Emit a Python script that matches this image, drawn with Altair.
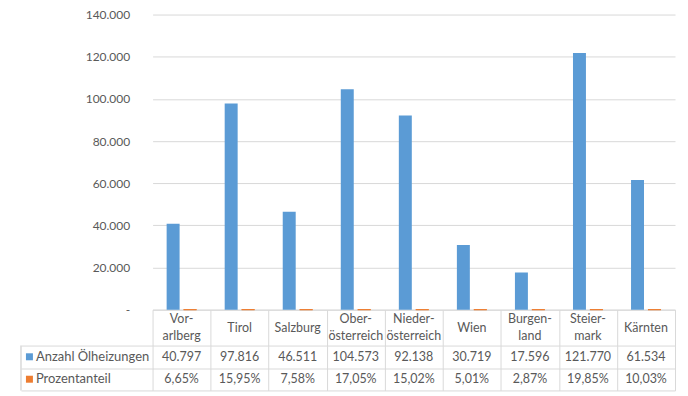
import altair as alt
import pandas as pd

# ---- data ----
categories = ["Vorarlberg", "Tirol", "Salzburg", "Oberösterreich", "Niederösterreich",
              "Wien", "Burgenland", "Steiermark", "Kärnten"]
header_labels = [["Vor-", "arlberg"], ["Tirol"], ["Salzburg"], ["Ober-", "österreich"],
                 ["Nieder-", "österreich"], ["Wien"], ["Burgen-", "land"], ["Steier-", "mark"],
                 ["Kärnten"]]
counts = [40797, 97816, 46511, 104573, 92138, 30719, 17596, 121770, 61534]
percents = [6.65, 15.95, 7.58, 17.05, 15.02, 5.01, 2.87, 19.85, 10.03]
series = ["Anzahl Ölheizungen", "Prozentanteil"]
colors = ["#5b9bd5", "#ed7d31"]
y_ticks = [0, 20000, 40000, 60000, 80000, 100000, 120000, 140000]

FONT = "Lato"
TEXT = "#595959"
GRID = "#d9d9d9"
W = 524
H = 296
HEADER_H = 36
LINE_H = 17

bars_df = pd.DataFrame({
    "Region": categories * 2,
    "Reihe": [series[0]] * len(categories) + [series[1]] * len(categories),
    "Wert": counts + percents,
})


def fmt_count(v):
    return f"{v:,}".replace(",", ".")


def fmt_pct(v):
    return f"{v:.2f}".replace(".", ",") + "%"


table_df = pd.DataFrame({
    "Region": categories * 2,
    "Reihe": [series[0]] * len(categories) + [series[1]] * len(categories),
    "Text": [fmt_count(v) for v in counts] + [fmt_pct(v) for v in percents],
})
rows_df = pd.DataFrame({"Reihe": series})

# header lines: each line of a (hyphenated) region name, centred as a block in the header row
hdr_rows = []
for cat, lines in zip(categories, header_labels):
    n = len(lines)
    for i, ln in enumerate(lines):
        hdr_rows.append({"Region": cat, "Zeile": ln,
                         "pos": HEADER_H / 2 + (i - (n - 1) / 2) * LINE_H})
header_df = pd.DataFrame(hdr_rows)

color_scale = alt.Scale(domain=series, range=colors)
band_x = alt.Scale(type="band", domain=categories, paddingInner=0, paddingOuter=0)

# ---- bar chart ----
bars = alt.Chart(bars_df).mark_bar().encode(
    x=alt.X("Region:N", sort=categories, scale=band_x,
            axis=alt.Axis(title=None, labels=False, ticks=False, domain=True, domainColor=GRID)),
    xOffset=alt.XOffset("Reihe:N", sort=series,
                        scale=alt.Scale(domain=series, paddingInner=0.235, paddingOuter=0.83)),
    y=alt.Y("Wert:Q", scale=alt.Scale(domain=[0, 140000], nice=False),
            axis=alt.Axis(title=None, values=y_ticks,
                          labelExpr="datum.value == 0 ? '-\u00a0\u00a0\u00a0' : replace(format(datum.value, ','), ',', '.')",
                          grid=True, gridColor=GRID, domain=False, ticks=False, labelPadding=23,
                          labelColor=TEXT, labelFontSize=12, labelFont=FONT)),
    color=alt.Color("Reihe:N", scale=color_scale, legend=None),
    stroke=alt.Stroke("Reihe:N", scale=color_scale, legend=None),
    strokeWidth=alt.condition(alt.datum.Reihe == series[1], alt.value(1), alt.value(0)),
).properties(width=W, height=H)

# ---- header row of the data table ----
grid_x = alt.Axis(title=None, orient="top", grid=True, gridColor=GRID, tickBand="extent",
                  labels=False, ticks=False, domain=False)
header = alt.Chart(header_df).mark_text(font=FONT, fontSize=12.5, color=TEXT).encode(
    x=alt.X("Region:N", sort=categories, scale=band_x, axis=grid_x),
    y=alt.Y("pos:Q", scale=alt.Scale(domain=[0, HEADER_H], reverse=True), axis=None),
    text="Zeile:N",
).properties(width=W, height=HEADER_H)

# ---- value rows of the data table ----
x_tab = alt.X("Region:N", sort=categories, scale=band_x, axis=grid_x)
y_tab = alt.Y("Reihe:N", sort=series,
              scale=alt.Scale(type="band", domain=series, paddingInner=0, paddingOuter=0),
              axis=alt.Axis(title=None, grid=True, gridColor=GRID, tickBand="extent",
                            labels=False, ticks=True, tickSize=132, tickColor=GRID, domain=False))

values_text = alt.Chart(table_df).mark_text(font=FONT, fontSize=12.5, color=TEXT).encode(
    x=x_tab, y=y_tab, text="Text:N")

row_labels = alt.Chart(rows_df).mark_text(font=FONT, fontSize=13, color=TEXT, align="left").encode(
    x=alt.value(-117), y=y_tab, text="Reihe:N")

squares = alt.Chart(rows_df).mark_square(size=49, opacity=1).encode(
    x=alt.value(-123.5), y=y_tab,
    color=alt.Color("Reihe:N", scale=color_scale, legend=None))

left_border = alt.Chart(rows_df).mark_rule(color=GRID).encode(
    x=alt.value(-132), y=alt.value(0), y2=alt.value(45))

table = alt.layer(values_text, row_labels, squares, left_border).properties(width=W, height=45)

chart = alt.vconcat(bars, header, table, spacing=0, bounds="flush").properties(
    padding={"left": 12, "top": 0, "right": 5, "bottom": 0}
).configure_view(strokeWidth=0)

chart.save("out.html", embed_options={"renderer": "svg", "actions": False})
